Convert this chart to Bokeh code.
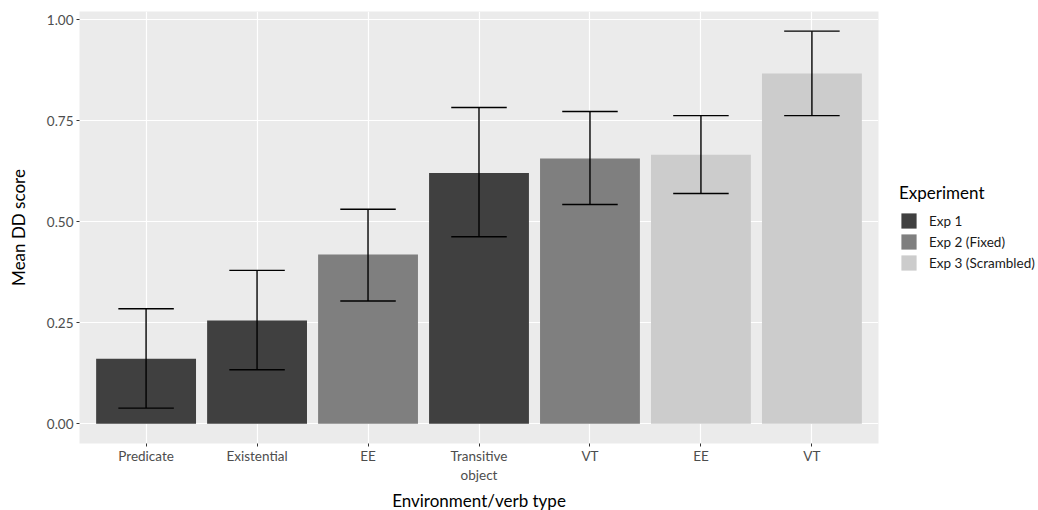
from bokeh.plotting import figure
from bokeh.models import (ColumnDataSource, Legend, LegendItem, FixedTicker, NumeralTickFormatter,
                          Range1d, Title)
from bokeh.embed import file_html
from bokeh.resources import INLINE

# ---- data ----
categories = ["Predicate", "Existential", "EE", "Transitive\nobject", "VT", "EE", "VT"]
experiment = ["Exp 1", "Exp 1", "Exp 2 (Fixed)", "Exp 1", "Exp 2 (Fixed)",
              "Exp 3 (Scrambled)", "Exp 3 (Scrambled)"]
means = [0.161, 0.256, 0.419, 0.621, 0.657, 0.666, 0.867]
lower = [0.039, 0.134, 0.304, 0.463, 0.543, 0.570, 0.763]
upper = [0.285, 0.380, 0.531, 0.783, 0.773, 0.763, 0.972]
exp_levels = ["Exp 1", "Exp 2 (Fixed)", "Exp 3 (Scrambled)"]
exp_colors = ["#404040", "#7F7F7F", "#CCCCCC"]
y_ticks = [0.0, 0.25, 0.5, 0.75, 1.0]

FONT = "Lato"
xs = list(range(1, len(categories) + 1))

ymax = max(upper)
pad = 0.05 * ymax
p = figure(frame_width=799, frame_height=432, output_backend="svg", toolbar_location=None,
           x_range=Range1d(0.4, len(categories) + 0.6),
           y_range=Range1d(0 - pad, ymax + pad),
           min_border_left=79, min_border_right=0, min_border_top=11, min_border_bottom=67)
p.background_fill_color = "#EBEBEB"
p.border_fill_color = "white"
p.outline_line_color = None

# grid
p.xgrid.ticker = FixedTicker(ticks=xs)
p.ygrid.ticker = FixedTicker(ticks=y_ticks)
for g in (p.xgrid, p.ygrid):
    g.grid_line_color = "white"
    g.grid_line_width = 1.2

# bars per experiment
items = []
for lev, col in zip(exp_levels, exp_colors):
    idx = [i for i, e in enumerate(experiment) if e == lev]
    src = ColumnDataSource(dict(x=[xs[i] for i in idx], top=[means[i] for i in idx]))
    r = p.vbar(x="x", top="top", bottom=0, width=0.9, source=src, fill_color=col, line_color=None)
    items.append(LegendItem(label=lev, renderers=[r]))

# error bars
esrc = ColumnDataSource(dict(x=xs, lo=lower, hi=upper,
                             x0=[x - 0.25 for x in xs], x1=[x + 0.25 for x in xs]))
p.segment(x0="x", y0="lo", x1="x", y1="hi", source=esrc, line_color="black", line_width=1.4)
p.segment(x0="x0", y0="lo", x1="x1", y1="lo", source=esrc, line_color="black", line_width=1.4)
p.segment(x0="x0", y0="hi", x1="x1", y1="hi", source=esrc, line_color="black", line_width=1.4)

# axes
p.xaxis.ticker = FixedTicker(ticks=xs)
p.xaxis.major_label_overrides = {x: c for x, c in zip(xs, categories)}
p.yaxis.ticker = FixedTicker(ticks=y_ticks)
p.yaxis.formatter = NumeralTickFormatter(format="0.00")
p.yaxis.axis_label = "Mean DD score"
for ax in (p.xaxis[0], p.yaxis[0]):
    ax.axis_line_color = None
    ax.major_tick_line_color = "#333333"
    ax.major_tick_in = 0
    ax.major_tick_out = 3
    ax.minor_tick_line_color = None
    ax.major_label_text_font = FONT
    ax.major_label_text_font_size = "13.5px"
    ax.major_label_text_color = "#4D4D4D"
    ax.axis_label_text_font = FONT
    ax.axis_label_text_font_size = "17px"
    ax.axis_label_text_font_style = "normal"
    ax.axis_label_text_color = "black"
    ax.major_label_standoff = 3
p.xaxis.major_label_standoff = 1
p.yaxis.axis_label_standoff = 15

xtitle = Title(text="Environment/verb type", align="center", text_font=FONT,
               text_font_size="17px", text_font_style="normal", text_color="black",
               standoff=4)
p.add_layout(xtitle, "below")

legend = Legend(items=items, title="Experiment", location="center_left")
legend.title_text_font = FONT
legend.title_text_font_size = "17px"
legend.title_text_font_style = "normal"
legend.title_text_color = "black"
legend.label_text_font = FONT
legend.label_text_font_size = "13.5px"
legend.label_text_color = "#1A1A1A"
legend.glyph_width = 19
legend.glyph_height = 19
legend.label_height = 19
legend.spacing = 2
legend.label_standoff = 11
legend.padding = 0
legend.margin = 21
legend.border_line_color = None
legend.background_fill_color = None
legend.background_fill_alpha = 0
legend.title_standoff = 8
p.add_layout(legend, "right")

open("out.html", "w").write(file_html(p, INLINE))
